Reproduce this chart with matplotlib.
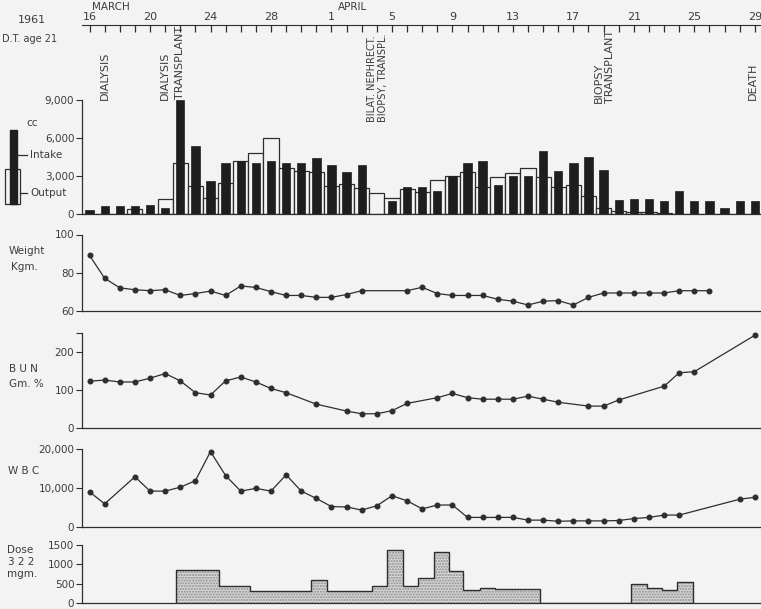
import numpy as np
import matplotlib
matplotlib.use("Agg")
import matplotlib.pyplot as plt
from matplotlib.transforms import blended_transform_factory

# ---- data (day 0 = March 16, 1961) ----
fluid_days = list(range(45))
intake = [300, 600, 600, 600, 700, 450, 9000, 5400, 2600, 4000,
          4200, 4000, 4200, 4000, 4000, 4400, 3900, 3350, 3900, 0,
          1000, 2100, 2100, 1800, 3000, 4050, 4200, 2300, 3000, 3000,
          5000, 3400, 4000, 4500, 3500, 1100, 1150, 1150, 1000, 1800,
          1050, 1050, 450, 1050, 1050]
output = [0, 0, 0, 400, 0, 1200, 4000, 2200, 1300, 2450,
          4200, 4800, 6000, 3600, 3400, 3300, 2200, 2400, 2050, 1650,
          1250, 1950, 1700, 2700, 3000, 3350, 2100, 2950, 3200, 3650,
          2900, 2100, 2300, 1400, 450, 200, 150, 150, 100, 0,
          0, 0, 0, 0, 0]

weight_days = [0, 1, 2, 3, 4, 5, 6, 7, 8, 9, 10, 11, 12, 13, 14, 15, 16, 17, 18,
               21, 22, 23, 24, 25, 26, 27, 28, 29, 30, 31, 32, 33, 34, 35, 36, 37, 38, 39, 40, 41]
weight = [89, 77, 72, 71, 70.5, 71, 68, 69, 70.3, 68, 73, 72.2, 70, 68, 68, 67, 67, 68.5, 70.5,
          70.5, 72.3, 69, 68, 68, 68, 66, 65, 63, 65, 65.3, 63, 67, 69.3, 69.3, 69.3, 69.3, 69.3,
          70.5, 70.5, 70.5]

bun_days = [0, 1, 2, 3, 4, 5, 6, 7, 8, 9, 10, 11, 12, 13, 15, 17, 18, 19, 20, 21,
            23, 24, 25, 26, 27, 28, 29, 30, 31, 33, 34, 35, 38, 39, 40, 44]
bun = [123, 126, 121, 121, 131, 143, 124, 93, 87, 124, 134, 121, 104, 93, 63, 45, 38, 38, 46, 65,
       80, 91, 80, 76, 76, 76, 84, 76, 68, 58, 58, 74, 110, 145, 148, 243]

wbc_days = [0, 1, 3, 4, 5, 6, 7, 8, 9, 10, 11, 12, 13, 14, 15, 16, 17, 18, 19, 20, 21,
            22, 23, 24, 25, 26, 27, 28, 29, 30, 31, 32, 33, 34, 35, 36, 37, 38, 39, 43, 44]
wbc = [9000, 5900, 12900, 9200, 9200, 10200, 11900, 19400, 13200, 9200, 9900, 9200, 13400,
       9200, 7300, 5200, 5100, 4300, 5400, 8000, 6700, 4600, 5600, 5600, 2400, 2400, 2400,
       2400, 1700, 1700, 1400, 1500, 1500, 1500, 1600, 2100, 2400, 3000, 3000, 7100, 7600]

dose_edges = [5.75, 8.55, 10.6, 14.65, 15.7, 18.7, 19.7, 20.75, 21.75, 22.75, 23.8,
              24.7, 25.8, 26.8, 29.8, 35.8, 36.85, 37.85, 38.85, 39.9]
dose = [850, 430, 320, 590, 320, 440, 1360, 440, 650, 1330, 840, 340, 400, 360,
        0, 480, 380, 340, 550]

date_ticks = [0, 4, 8, 12, 16, 20, 24, 28, 32, 36, 40, 44]
date_labels = ["16", "20", "24", "28", "1", "5", "9", "13", "17", "21", "25", "29"]

# (day, label, bottom of text in px from top, font size)
events = [(1, "DIALYSIS", 100, 8), (5, "DIALYSIS", 100, 8), (6, "TRANSPLANT", 99, 8),
          (19.05, "BILAT. NEPHRECT.\nBIOPSY, TRANSPL.", 122, 7),
          (34.05, "BIOPSY\nTRANSPLANT", 103, 8), (43.9, "DEATH", 100, 8)]

# ---- figure ----
plt.rcParams["font.family"] = ["DejaVu Sans"]
BG = "#f3f3f3"
INK = "#2e2e2e"
TXT = "#3c3c3c"
W, H = 761, 609
X0, X1 = -0.5, 44.41

fig = plt.figure(figsize=(W / 100, H / 100), dpi=100, facecolor=BG)


def px_axes(left, top, right, bottom):
    return fig.add_axes([left / W, 1 - bottom / H, (right - left) / W, (bottom - top) / H])


def style_panel(ax, ylim, ticks, labels):
    ax.set_xlim(X0, X1)
    ax.set_ylim(*ylim)
    ax.patch.set_alpha(0)
    for s in ["top", "right"]:
        ax.spines[s].set_visible(False)
    for s in ["left", "bottom"]:
        ax.spines[s].set_color(INK)
        ax.spines[s].set_linewidth(0.9)
    ax.set_xticks([])
    ax.set_yticks(ticks, labels)
    ax.tick_params(axis="y", direction="out", length=4, width=0.8, colors=INK,
                   labelcolor=TXT, labelsize=7.5, pad=1.5)


# top date axis
ax_t = px_axes(82, 25, 761, 45)
ax_t.set_xlim(X0, X1)
ax_t.patch.set_alpha(0)
for s in ["left", "right", "bottom"]:
    ax_t.spines[s].set_visible(False)
ax_t.spines["top"].set_color(INK)
ax_t.xaxis.set_ticks_position("top")
ax_t.set_xticks(date_ticks, date_labels)
ax_t.set_xticks(range(45), minor=True)
ax_t.tick_params(axis="x", which="both", direction="in", length=5, width=0.9, colors=INK,
                 labelcolor=TXT, labelsize=8, pad=2)
ax_t.set_yticks([])
fig.text(111 / W, 1 - 7 / H, "MARCH", ha="center", va="center", fontsize=7.5, color=TXT)
fig.text(353 / W, 1 - 7 / H, "APRIL", ha="center", va="center", fontsize=7.5, color=TXT)
fig.text(32 / W, 1 - 20 / H, "1961", ha="center", va="center", fontsize=8, color=TXT)
fig.text(2 / W, 1 - 39 / H, "D.T. age 21", ha="left", va="center", fontsize=7, color=TXT)

# fluid panel
ax_f = px_axes(82, 100, 761, 214)
style_panel(ax_f, (0, 9000), [0, 3000, 6000, 9000], ["0", "3,000", "6,000", "9,000"])
ax_f.bar(fluid_days, output, width=1.0, facecolor=BG, edgecolor=INK, linewidth=0.9, zorder=2)
ax_f.bar(fluid_days, intake, width=0.55, facecolor="#1e1e1e", edgecolor="#1e1e1e",
         linewidth=0.5, zorder=3)

tr = blended_transform_factory(ax_f.transData, fig.transFigure)
for d, label, bottom, fs in events:
    ax_f.text(d, 1 - bottom / H, label, transform=tr, rotation=90, ha="center", va="bottom",
              multialignment="left", fontsize=fs, color=TXT, linespacing=1.05)

# legend drawn in left margin
ax_l = px_axes(0, 100, 82, 214)
ax_l.set_xlim(0, 82)
ax_l.set_ylim(0, 9000)
ax_l.axis("off")
ax_l.bar(12.5, 2760, bottom=790, width=15, facecolor=BG, edgecolor=INK, linewidth=0.9)
ax_l.bar(13.5, 5840, bottom=790, width=7, facecolor="#1e1e1e", edgecolor="#1e1e1e")
ax_l.plot([17, 27], [4660, 4660], color=INK, lw=0.9)
ax_l.plot([20, 27], [1660, 1660], color=INK, lw=0.9)
ax_l.text(30, 4660, "Intake", va="center", fontsize=7.5, color=TXT)
ax_l.text(30, 1660, "Output", va="center", fontsize=7.5, color=TXT)
ax_l.text(32, 7180, "cc", ha="center", va="center", fontsize=7.5, color=TXT)


def line_panel(top, bottom, ylim, ticks, labels, days, vals):
    ax = px_axes(82, top, 761, bottom)
    style_panel(ax, ylim, ticks, labels)
    ax.plot(days, vals, "-o", color=INK, lw=0.9, ms=3.3, clip_on=False)
    return ax


line_panel(234.5, 310.7, (60, 100), [60, 80, 100], ["60", "80", "100"], weight_days, weight)
fig.text(27 / W, 1 - 251 / H, "Weight", ha="center", va="center", fontsize=7.5, color=TXT)
fig.text(24 / W, 1 - 267 / H, "Kgm.", ha="center", va="center", fontsize=7.5, color=TXT)

ax_b = line_panel(332.6, 428.3, (0, 250), [0, 100, 200, 250], ["0", "100", "200", ""], bun_days, bun)
fig.text(9 / W, 1 - 369 / H, "B U N", ha="left", va="center", fontsize=7.5, color=TXT)
fig.text(9 / W, 1 - 384 / H, "Gm. %", ha="left", va="center", fontsize=7.5, color=TXT)

line_panel(449.3, 526.7, (0, 20000), [0, 10000, 20000], ["0", "10,000", "20,000"], wbc_days, wbc)
fig.text(8 / W, 1 - 471 / H, "W B C", ha="left", va="center", fontsize=7.5, color=TXT)

# dose panel
ax_d = px_axes(82, 545, 761, 603)
style_panel(ax_d, (0, 1500), [0, 500, 1000, 1500], ["0", "500", "1000", "1500"])
ax_d.stairs(dose, dose_edges, fill=True, facecolor="#d6d6d6", edgecolor="#8c8c8c",
            hatch="......", linewidth=0)
ax_d.stairs(dose, dose_edges, baseline=0, fill=False, edgecolor=INK, linewidth=1.0)
fig.text(20 / W, 1 - 550 / H, "Dose", ha="center", va="center", fontsize=7.5, color=TXT)
fig.text(21.5 / W, 1 - 562 / H, "3 2 2", ha="center", va="center", fontsize=7.5, color=TXT)
fig.text(22 / W, 1 - 574 / H, "mgm.", ha="center", va="center", fontsize=7.5, color=TXT)

fig.savefig("out.png", dpi=100, facecolor=BG)
